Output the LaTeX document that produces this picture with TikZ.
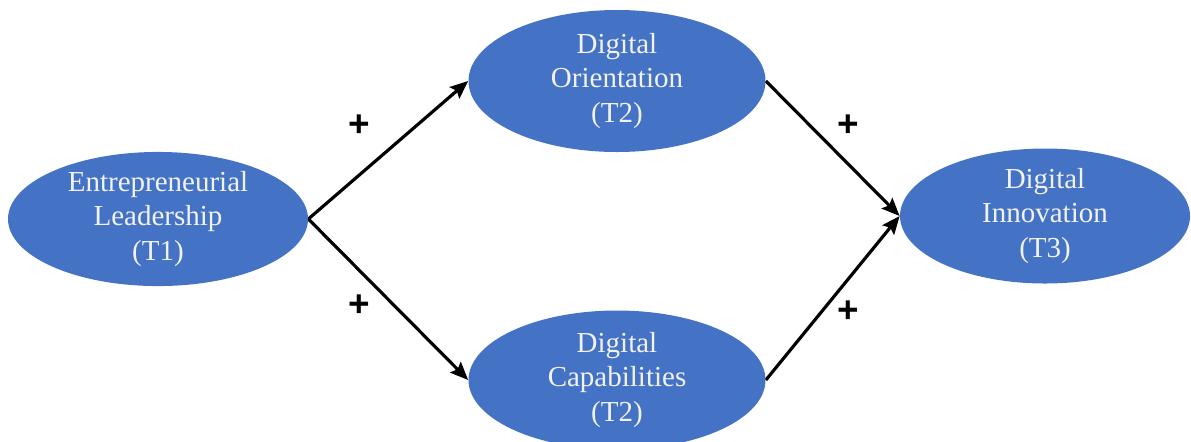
\documentclass[tikz,border=0pt]{standalone}
\usepackage{fontspec}
\setmainfont{Liberation Serif}
\newfontfamily\plusfont{Liberation Sans}
\usepackage{tikz}
\usetikzlibrary{shapes.geometric,arrows.meta}
\pgfdeclarelayer{bg}
\pgfsetlayers{bg,main}
\definecolor{ovalblue}{HTML}{4472C4}
\definecolor{ovaltext}{HTML}{F2F2F2}
\tikzset{
    construct/.style={ellipse, fill=ovalblue, draw=none, inner sep=0mm, align=center,
        text=ovaltext, font=\fontsize{16.5}{19.5}\selectfont}
}
\tikzset{path/.style={line width=1.8pt, -{Stealth[length=3.6mm, width=3.0mm, inset=0.6mm]}}}
\tikzset{sign/.style={font=\plusfont\bfseries\fontsize{21}{21}\selectfont}}

\begin{document}
\begin{tikzpicture}
        \useasboundingbox (0cm, 0cm) rectangle (23.82cm, -8.82cm);
        \node (lead) [construct, minimum width=6.0cm, minimum height=2.64cm] at (3.16cm, -4.38cm) {Entrepreneurial\\Leadership\\(T1)};
        \node (orient) [construct, minimum width=5.94cm, minimum height=2.84cm] at (12.34cm, -1.62cm) {Digital\\Orientation\\(T2)};
        \node (capab) [construct, minimum width=5.94cm, minimum height=2.78cm] at (12.34cm, -7.6cm) {Digital\\Capabilities\\(T2)};
        \node (innov) [construct, minimum width=5.8cm, minimum height=2.7cm] at (20.9cm, -4.32cm) {Digital\\Innovation\\(T3)};
        \node (s1) [sign] at (7.18cm, -2.52cm) {+};
        \node (s2) [sign] at (7.18cm, -6.12cm) {+};
        \node (s3) [sign] at (16.96cm, -2.52cm) {+};
        \node (s4) [sign] at (16.96cm, -6.24cm) {+};
        \begin{pgfonlayer}{bg}
                \draw (lead.east) edge [path] (orient.west);
                \draw (lead.east) edge [path] (capab.west);
                \draw (orient.east) edge [path] (innov.west);
                \draw (capab.east) edge [path] (innov.west);
        \end{pgfonlayer}
\end{tikzpicture}
\end{document}
